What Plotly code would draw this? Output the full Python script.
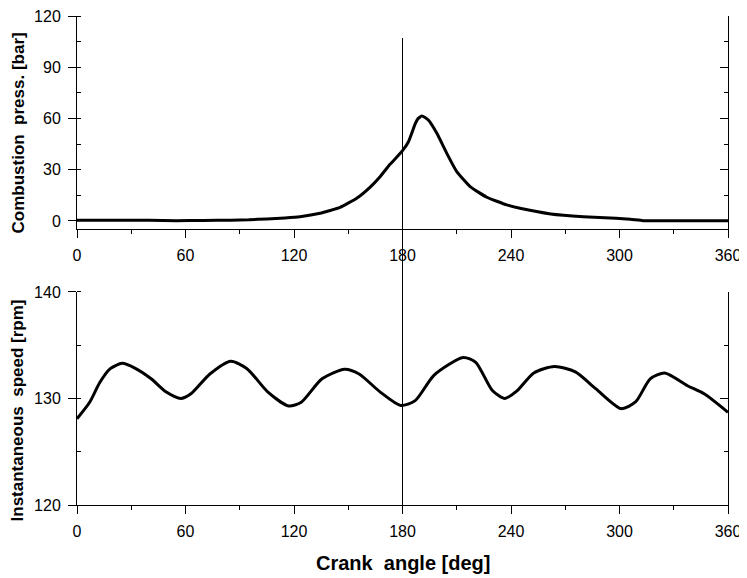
import plotly.graph_objects as go

# Combustion pressure [bar] vs crank angle [deg]
press_angle = [0, 20, 40, 55, 70, 85, 95, 105, 115, 123.3, 134.4, 145.5, 154.7, 162, 167.6,
               173.1, 176.5, 179.9, 183.3, 187, 188.5, 190.6, 192.5, 194.3, 199, 204.5, 210,
               217.4, 226.6, 237.7, 245, 262, 280, 298, 306, 313, 320, 340, 360]
press_bar = [0.5, 0.5, 0.4, 0.2, 0.3, 0.5, 0.7, 1.2, 1.8, 2.5, 4.5, 8.0, 13.3, 19.7, 25.9,
             33.2, 37.0, 41.0, 46.4, 56.8, 59.8, 61.5, 60.6, 59.1, 51.3, 39.6, 28.9,
             20.1, 13.9, 9.4, 7.4, 4.1, 2.5, 1.6, 1.0, 0.2, 0.1, 0.2, 0.2]

# Instantaneous speed [rpm] vs crank angle [deg]
speed_angle = [0, 7, 12.6, 18.4, 25, 32, 41, 49.4, 57.4, 63, 73.5, 85, 94, 105.6, 117, 124,
               135.5, 148, 156, 167.7, 179, 187, 197.5, 213.6, 220.5, 229.7, 236.6, 243.5,
               252.6, 264, 275.6, 287, 301, 309, 317, 325, 337.6, 346.8, 360]
speed_rpm = [128.1, 129.65, 131.5, 132.8, 133.3, 132.85, 131.85, 130.6, 130.0, 130.44, 132.3,
             133.5, 132.8, 130.6, 129.3, 129.65, 131.85, 132.75, 132.3, 130.6, 129.35, 129.8,
             132.2, 133.85, 133.4, 130.75, 130.0, 130.75, 132.4, 133.0, 132.5, 130.9, 129.05,
             129.7, 131.85, 132.4, 131.2, 130.44, 128.7]

x_ticks = [0, 60, 120, 180, 240, 300, 360]
press_ticks = [0, 30, 60, 90, 120]
speed_ticks = [120, 130, 140]
marker_angle = 180

FONT = "Liberation Sans, Arial, sans-serif"

fig = go.Figure()
fig.add_trace(go.Scatter(x=press_angle, y=press_bar, mode="lines",
                         line=dict(color="black", width=3, shape="spline", smoothing=0.4),
                         xaxis="x", yaxis="y", showlegend=False))
fig.add_trace(go.Scatter(x=speed_angle, y=speed_rpm, mode="lines",
                         line=dict(color="black", width=3, shape="spline", smoothing=0.7),
                         xaxis="x2", yaxis="y2", showlegend=False))
# invisible traces to register the right-hand axes
fig.add_trace(go.Scatter(x=[None], y=[None], xaxis="x", yaxis="y3", showlegend=False, hoverinfo="skip"))
fig.add_trace(go.Scatter(x=[None], y=[None], xaxis="x2", yaxis="y4", showlegend=False, hoverinfo="skip"))

top_dom = [0.5644, 1.0]
bot_dom = [0.0, 0.4356]

common_x = dict(range=[0, 360], tickvals=x_ticks, ticks="outside", ticklen=8, tickwidth=1,
                tickcolor="black", showline=True, linecolor="black", linewidth=1,
                showgrid=False, zeroline=False, tickfont=dict(family=FONT, size=16, color="black"),
                minor=dict(dtick=30, tick0=0, ticks="outside", ticklen=4, tickcolor="black", showgrid=False),
                ticklabelstandoff=4, automargin=False, ticklabeloverflow="allow")

left_y = dict(ticks="outside", ticklen=8, tickwidth=1, tickcolor="black", showline=True,
              linecolor="black", linewidth=1, showgrid=False, zeroline=False,
              tickfont=dict(family=FONT, size=16, color="black"), ticklabelstandoff=4,
              automargin=False, ticklabeloverflow="allow")

right_y = dict(side="right", ticks="inside", ticklen=8, tickwidth=1, tickcolor="black",
               showline=True, linecolor="black", linewidth=1, showgrid=False, zeroline=False,
               showticklabels=False, automargin=False)

fig.update_layout(
    width=739, height=570,
    margin=dict(l=69, r=19, t=8, b=73, autoexpand=False),
    paper_bgcolor="white", plot_bgcolor="white",
    xaxis=dict(common_x, anchor="y", domain=[0, 1]),
    xaxis2=dict(common_x, anchor="y2", domain=[0, 1]),
    yaxis=dict(left_y, domain=top_dom, anchor="x", range=[-4.7, 120], tickvals=press_ticks,
               minor=dict(dtick=15, tick0=0, ticks="inside", ticklen=4, tickcolor="black", showgrid=False)),
    yaxis2=dict(left_y, domain=bot_dom, anchor="x2", range=[120, 140], tickvals=speed_ticks,
                minor=dict(dtick=5, tick0=0, ticks="inside", ticklen=4, tickcolor="black", showgrid=False)),
    yaxis3=dict(right_y, overlaying="y", anchor="x", range=[-4.7, 120], tickvals=press_ticks,
                minor=dict(dtick=15, tick0=0, ticks="inside", ticklen=4, tickcolor="black", showgrid=False)),
    yaxis4=dict(right_y, overlaying="y2", anchor="x2", range=[120, 140], tickvals=speed_ticks,
                minor=dict(dtick=5, tick0=0, ticks="inside", ticklen=4, tickcolor="black", showgrid=False)),
    shapes=[dict(type="line", xref="x2", yref="paper", x0=marker_angle, x1=marker_angle,
                 y0=0, y1=0.955, line=dict(color="black", width=1))],
    annotations=[
        dict(text="<b>Combustion\u00a0 press. [bar]</b>", xref="paper", yref="paper",
             x=-0.0899, y=0.7607, textangle=-90, showarrow=False, xanchor="center", yanchor="middle",
             font=dict(family=FONT, size=17, color="black")),
        dict(text="<b>Instantaneous\u00a0 speed [rpm]</b>", xref="paper", yref="paper",
             x=-0.0899, y=0.1943, textangle=-90, showarrow=False, xanchor="center", yanchor="middle",
             font=dict(family=FONT, size=17, color="black")),
        dict(text="<b>Crank\u00a0 angle [deg]</b>", xref="paper", yref="paper",
             x=0.5, y=-0.1186, showarrow=False, xanchor="center", yanchor="middle",
             font=dict(family=FONT, size=20, color="black")),
    ],
)

fig.write_html("out.html")
